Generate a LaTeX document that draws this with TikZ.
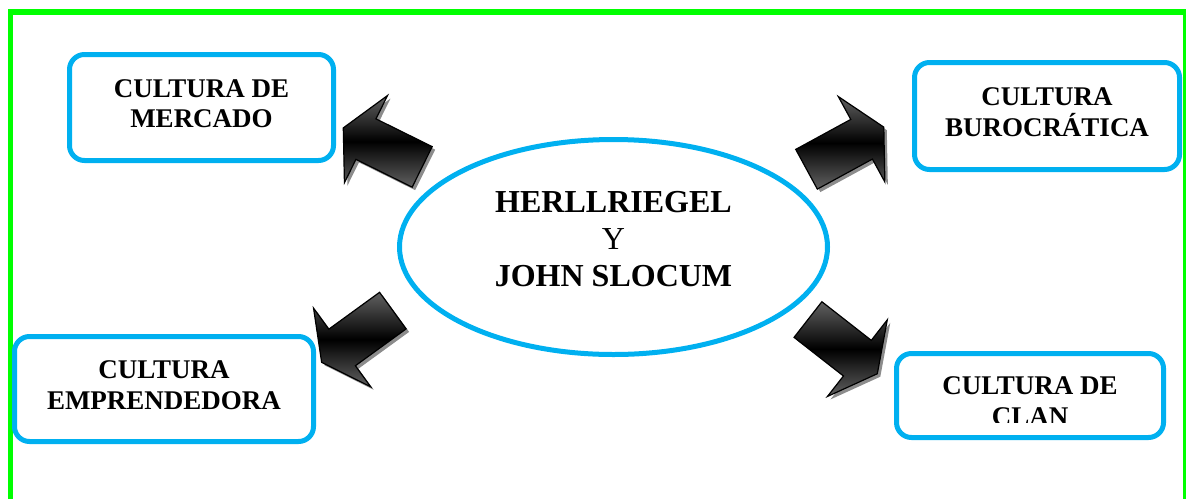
\documentclass[tikz,border=0pt]{standalone}
\usepackage{fontspec}
\setmainfont{Liberation Serif}
\usepackage{tikz}
\usetikzlibrary{shapes.geometric,shapes.arrows,shadows}
\definecolor{celeste}{RGB}{0,176,240}
\definecolor{verde}{RGB}{0,255,0}

\begin{document}
\begin{tikzpicture}[x=1pt,y=-1pt,
  caja/.style={draw=celeste,line width=5pt,rounded corners=15pt,align=center,
    font=\fontsize{27}{30.5}\bfseries\selectfont,inner sep=0pt,text depth=8pt},
  elipse/.style={ellipse,draw=celeste,line width=5pt,align=center,inner sep=0pt,
    font=\fontsize{32}{37}\selectfont,text depth=16pt},
  flecha/.style={single arrow,draw=black,line width=1.2pt,inner xsep=0pt,inner ysep=22pt,
    minimum height=88pt,single arrow head extend=26pt,single arrow tip angle=125,
    top color=black!62,bottom color=black!62,middle color=black,
    drop shadow={shadow xshift=3pt,shadow yshift=-3pt,fill=black!45,opacity=1}}]
\useasboundingbox (0,0) rectangle (1188,499);

\draw[verde,line width=5.5pt] (10.3,499) -- (10.3,12) -- (1186,12);
\draw[verde,line width=2.7pt] (1184.7,12) -- (1184.7,499);

\node[elipse,minimum width=428pt,minimum height=215pt] (centro) at (613.5,247)
  {\textbf{HERLLRIEGEL}\\Y\\\textbf{JOHN SLOCUM}};

\node[caja,minimum width=264pt,minimum height=106pt] (mercado) at (201.5,107.5) {CULTURA DE\\MERCADO};
\node[caja,minimum width=265pt,minimum height=107pt] (burocratica) at (1047,116) {CULTURA\\BUROCRÁTICA};
\node[caja,minimum width=299pt,minimum height=105pt] (emprendedora) at (164,389) {CULTURA\\EMPRENDEDORA};
\node[caja,minimum width=267pt,minimum height=84pt] (clan) at (1030,395.5) {};
\begin{scope}
\clip (894,351) rectangle (1166,422);
\node[align=center,font=\fontsize{27}{31}\bfseries\selectfont] (clantexto) at ([yshift=-5.5pt]clan.center) {CULTURA DE\\CLAN};
\end{scope}

\node[flecha,rotate=153.7] (f1) at (388,150) {};
\node[flecha,rotate=28.6] (f2) at (840,151) {};
\node[flecha,rotate=216] (f3) at (362,333) {};
\node[flecha,rotate=-38] (f4) at (838,343) {};
\end{tikzpicture}
\end{document}
